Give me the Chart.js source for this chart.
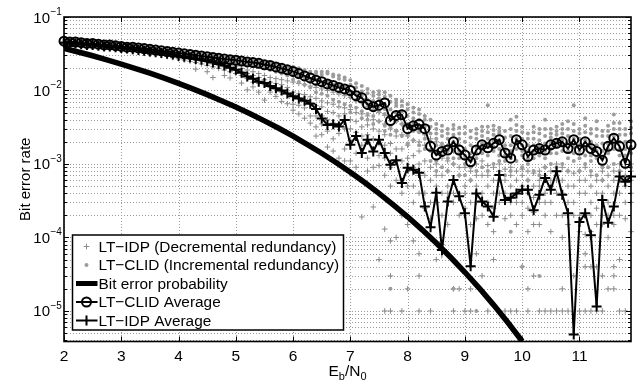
<!DOCTYPE html>
<html><head><meta charset="utf-8">
<script src="https://cdn.jsdelivr.net/npm/chart.js@4.4.1/dist/chart.umd.min.js"></script>
<style>html,body{margin:0;padding:0;background:#fff;}#wrap{width:638px;height:383px;}</style>
</head><body><div id="wrap"><canvas id="c" width="638" height="383"></canvas></div>
<script>
// ---------- data ----------
const snr = [2,2.1,2.2,2.3,2.4,2.5,2.6,2.7,2.8,2.9,3,3.1,3.2,3.3,3.4,3.5,3.6,3.7,3.8,3.9,4,4.1,4.2,4.3,4.4,4.5,4.6,4.7,4.8,4.9,5,5.1,5.2,5.3,5.4,5.5,5.6,5.7,5.8,5.9,6,6.1,6.2,6.3,6.4,6.5,6.6,6.7,6.8,6.9,7,7.1,7.2,7.3,7.4,7.5,7.6,7.7,7.8,7.9,8,8.1,8.2,8.3,8.4,8.5,8.6,8.7,8.8,8.9,9,9.1,9.2,9.3,9.4,9.5,9.6,9.7,9.8,9.9,10,10.1,10.2,10.3,10.4,10.5,10.6,10.7,10.8,10.9,11,11.1,11.2,11.3,11.4,11.5,11.6,11.7,11.8,11.9];

const clidAvg = [
0.0468,0.0457,0.0457,0.0447,0.0437,0.0437,0.0427,0.0417,0.0417,0.0407,
0.0398,0.0389,0.0389,0.0380,0.0372,0.0363,0.0355,0.0347,0.0339,0.0331,
0.0324,0.0316,0.0309,0.0302,0.0295,0.0288,0.0282,0.0275,0.0269,0.0263,
0.0257,0.0251,0.0245,0.0240,0.0234,0.0224,0.0219,0.0209,0.0200,0.0191,
0.0182,0.0170,0.0158,0.0148,0.0138,0.0132,0.0123,0.0117,0.0110,0.0105,
0.0100,0.00851,0.00794,0.00646,0.00603,0.00631,0.00676,0.00389,0.00457,0.00468,
0.00302,0.00331,0.00347,0.00302,0.00174,0.00132,0.00148,0.00155,0.00200,0.00155,
0.00132,0.00107,0.00155,0.00182,0.00166,0.00191,0.00214,0.00141,0.00120,0.00214,
0.00182,0.00126,0.00155,0.00162,0.00155,0.00182,0.00191,0.00200,0.00162,0.00214,
0.00155,0.00200,0.00162,0.00148,0.00112,0.00174,0.00224,0.00174,0.00102,0.00182];

const idpAvg = [
0.0447,0.0437,0.0437,0.0427,0.0417,0.0417,0.0407,0.0398,0.0398,0.0389,
0.0380,0.0372,0.0363,0.0355,0.0347,0.0339,0.0331,0.0324,0.0316,0.0309,
0.0295,0.0288,0.0282,0.0269,0.0263,0.0251,0.0240,0.0229,0.0219,0.0204,
0.0191,0.0174,0.0155,0.0145,0.0132,0.0126,0.0115,0.0107,0.0100,0.00912,
0.00832,0.00776,0.00724,0.00661,0.00562,0.00417,0.00339,0.00347,0.00324,0.00398,
0.00182,0.00240,0.00141,0.00214,0.00148,0.00214,0.00141,0.000977,0.00112,0.000550,
0.000891,0.000832,0.000759,0.000263,0.000138,0.000407,0.0000676,0.000309,0.000603,0.000363,
0.000214,0.0000407,0.000398,0.000309,0.000263,0.000191,0.000708,0.000324,0.000347,0.000398,
0.000447,0.000447,0.000234,0.000380,0.000646,0.000447,0.000794,0.000380,0.000214,0.0000048,
0.000162,0.000214,0.000107,0.0000115,0.000324,0.000158,0.000263,0.000676,0.000575,0.000676];

const bepX = [2,2.25,2.5,2.75,3,3.25,3.5,3.75,4,4.25,4.5,4.75,5,5.25,5.5,5.75,6,6.25,6.5,6.75,7,7.25,7.5,7.75,8,8.25,8.5,8.75,9,9.25,9.5,9.75,10];
const bepY = [0.0375,0.0334,0.0297,0.0261,0.0229,0.0199,0.0172,0.0147,0.0125,0.0105,0.00879,0.00727,0.00595,0.00483,0.00386,0.00306,0.00239,0.00184,0.00140,0.00105,0.000773,0.000560,0.000398,0.000278,0.000191,0.000128,0.0000840,0.0000538,0.0000336,0.0000205,0.0000121,0.00000697,0.00000387];

// individual runs, one list per entry of snr
const idpTrials = [
[0.046,0.044,0.043],[0.045,0.043,0.042],[0.045,0.043,0.041],[0.044,0.042,0.041],[0.043,0.041,0.040],[0.043,0.041,0.039],[0.042,0.040,0.039],[0.041,0.039,0.038],[0.041,0.039,0.037],[0.040,0.038,0.037],
[0.039,0.037,0.036],[0.038,0.036,0.035],[0.037,0.035,0.034],[0.037,0.035,0.033],[0.036,0.034,0.032],[0.035,0.033,0.031],[0.034,0.032,0.031],[0.033,0.031,0.030],[0.033,0.031,0.029],[0.032,0.030,0.028],
[0.031,0.029,0.027],[0.030,0.028,0.026],[0.029,0.027,0.025],[0.028,0.026,0.024,0.0195],[0.027,0.025,0.023],[0.026,0.024,0.022,0.018],[0.025,0.023,0.021,0.015],[0.024,0.022,0.020],[0.023,0.021,0.019,0.016],[0.022,0.020,0.018,0.0148],
[0.021,0.019,0.017],[0.020,0.018,0.016,0.0126],[0.019,0.017,0.0145,0.0102],[0.018,0.016,0.013,0.0112],[0.017,0.015,0.0125,0.0095],[0.016,0.014,0.012,0.0074],[0.015,0.013,0.011,0.0095],[0.0145,0.0125,0.0105,0.0083],[0.014,0.012,0.0095,0.0071],[0.0135,0.011,0.009,0.0066],
[0.013,0.0095,0.0085,0.0065,0.0054],[0.0125,0.009,0.008,0.0063,0.0048],[0.012,0.0088,0.0075,0.0058,0.0042],[0.0115,0.0082,0.0068,0.0045,0.0036],[0.011,0.0078,0.0062,0.0045,0.0032,0.0024],[0.0105,0.0072,0.006,0.0045,0.0035,0.0025],[0.01,0.0068,0.0052,0.004,0.0028,0.0017],[0.0095,0.0065,0.005,0.0036,0.0022,0.0015],[0.009,0.006,0.0045,0.0035,0.0026,0.0012],[0.0085,0.0058,0.0048,0.003,0.0016,0.0011],
[0.008,0.0055,0.004,0.003,0.0021,0.0011],[0.0072,0.005,0.0038,0.0027,0.0014,0.0009],[0.0068,0.0048,0.0032,0.0024,0.0018,0.0006,0.00019],[0.006,0.0045,0.0034,0.0025,0.0012,0.0008],[0.0055,0.004,0.003,0.0022,0.0016,0.0009,0.00026],[0.005,0.0038,0.0028,0.0019,0.0013,0.00095,0.00005],[0.0046,0.0035,0.0025,0.0018,0.0012,0.0007,0.00013,0.00001],[0.0042,0.003,0.0019,0.0014,0.0009,0.0005,0.00009,0.00003,0.00001],[0.0038,0.0028,0.0024,0.0016,0.0011,0.0006,0.0001],[0.0035,0.0025,0.0016,0.0011,0.0006,0.0004,0.0002,0.00001],
[0.0032,0.0024,0.0018,0.0012,0.0008,0.0005,0.00015,0.00002],[0.003,0.0021,0.0013,0.0009,0.0005,0.0003,0.00009],[0.0028,0.002,0.0015,0.001,0.0007,0.0004,0.00006,0.00003,0.00001],[0.0025,0.0018,0.0011,0.0007,0.0004,0.00025,0.00012],[0.0022,0.0016,0.0009,0.0006,0.0003,0.00018,0.00001],[0.002,0.0014,0.001,0.0007,0.0005,0.0003,0.00005],[0.0018,0.0012,0.0007,0.0004,0.0002,0.00008],[0.0016,0.0011,0.0008,0.0005,0.0004,0.00015],[0.0015,0.001,0.0006,0.0004,0.0003,0.00002,0.00001],[0.0014,0.0009,0.0007,0.0004,0.0002,0.00002],
[0.0012,0.0009,0.0005,0.0004,0.00025,0.00001],[0.0011,0.0008,0.0006,0.0003,0.00015,0.00002,0.00001],[0.001,0.0007,0.0005,0.0003,0.00018,0.00006],[0.0011,0.0007,0.0004,0.0003,0.0002,0.00003],[0.00095,0.0007,0.0005,0.0003,0.00015,0.00001],[0.0009,0.0006,0.0004,0.00025,0.00012,0.00005],[0.001,0.0008,0.0006,0.0004,0.0003,0.00001],[0.00085,0.0006,0.0004,0.0003,0.00018,0.00001],[0.0009,0.0007,0.0005,0.0003,0.0002,0.00001],[0.0008,0.0006,0.0004,0.0003,0.00015,0.00001],
[0.00085,0.0007,0.0005,0.0003,0.0002,0.00004],[0.0008,0.0006,0.0004,0.00025,0.00012,0.00002,0.00001],[0.00075,0.0005,0.00035,0.00022,0.00015,0.00003],[0.0008,0.0006,0.0005,0.0003,0.00015,0.00001],[0.0009,0.0007,0.0004,0.0003,0.0002,0.00001],[0.0008,0.0006,0.0005,0.0003,0.00012,0.00001],[0.001,0.0008,0.0006,0.0004,0.0002,0.00001],[0.0009,0.0006,0.0004,0.0002,0.0001,0.00002,0.00001],[0.0008,0.0005,0.0003,0.0002,0.00015,0.00001],[0.00075,0.0005,0.0003,0.0002,0.00003],
[0.0008,0.0006,0.0004,0.0002,0.00012,0.00001],[0.0009,0.0006,0.0004,0.0002,0.00011,0.00006,0.00004,0.00001],[0.0007,0.0005,0.0003,0.0002,0.00012,0.00004,0.00001],[0.0006,0.0004,0.00025,0.00015,0.00004,0.00001],[0.0008,0.0006,0.0004,0.0002,0.00015,0.00003,0.00001],[0.0007,0.0005,0.0003,0.0002,0.0001,0.00002],[0.0008,0.0006,0.0004,0.0002,0.00015,0.00004,0.00003,0.00002],[0.001,0.0008,0.0006,0.0004,0.0002,0.00005,0.00001],[0.0009,0.0007,0.0005,0.0003,0.00018,0.00001],[0.001,0.0008,0.0006,0.0004,0.0003,0.00012]];

const clidTrials = [
[0.049,0.046,0.044],[0.048,0.045,0.043],[0.048,0.045,0.043],[0.047,0.044,0.042],[0.046,0.043,0.041],[0.046,0.043,0.041],[0.045,0.042,0.040],[0.044,0.041,0.039],[0.044,0.041,0.039],[0.043,0.040,0.038],
[0.042,0.039,0.037],[0.041,0.038,0.036],[0.041,0.038,0.036],[0.040,0.037,0.035],[0.039,0.037,0.035],[0.038,0.036,0.034],[0.037,0.035,0.033],[0.036,0.034,0.032],[0.036,0.033,0.031],[0.035,0.033,0.031],
[0.034,0.032,0.030],[0.033,0.031,0.029],[0.032,0.030,0.028],[0.032,0.030,0.028],[0.031,0.029,0.027],[0.030,0.028,0.026],[0.030,0.028,0.026],[0.029,0.027,0.025],[0.028,0.026,0.024],[0.028,0.026,0.024],
[0.027,0.025,0.023],[0.027,0.025,0.023],[0.026,0.024,0.022],[0.026,0.024,0.022],[0.025,0.023,0.021],[0.024,0.022,0.020],[0.024,0.021,0.019],[0.023,0.020,0.018],[0.022,0.019,0.017],[0.021,0.018,0.016],
[0.021,0.02,0.017,0.016,0.014],[0.02,0.019,0.016,0.015,0.013],[0.019,0.018,0.015,0.014,0.012],[0.018,0.017,0.014,0.013,0.011],[0.018,0.017,0.014,0.012,0.0095],[0.018,0.0165,0.013,0.0115,0.009],[0.018,0.017,0.013,0.011,0.0085],[0.0165,0.0155,0.012,0.0105,0.0075],[0.016,0.0145,0.012,0.0095,0.007],[0.015,0.014,0.011,0.009,0.0065],
[0.0138,0.012,0.0095,0.0085,0.0062,0.005],[0.0125,0.011,0.0088,0.0075,0.0058],[0.0115,0.0098,0.0085,0.007,0.0052,0.0042],[0.0105,0.0092,0.0075,0.0065,0.0048,0.004],[0.0095,0.0085,0.0072,0.006,0.0045,0.0035],[0.0098,0.0088,0.0078,0.0062,0.0052,0.0038],[0.0095,0.0082,0.0065,0.0056,0.0048,0.0033,0.0028],[0.0085,0.007,0.0055,0.0045,0.0032,0.0025,0.00002],[0.0075,0.0068,0.0062,0.005,0.0038,0.0028],[0.0072,0.0062,0.0052,0.0042,0.0035,0.0024],
[0.0065,0.0055,0.0045,0.0035,0.0025,0.0019],[0.0058,0.005,0.0042,0.0035,0.0028,0.0021],[0.0055,0.0048,0.004,0.0033,0.0027,0.0018],[0.0045,0.004,0.0032,0.0026,0.0022,0.0016],[0.004,0.0032,0.0026,0.002,0.0015,0.0011],[0.0035,0.003,0.0026,0.0022,0.0018,0.0014,0.0011,0.0008],[0.0033,0.0028,0.0024,0.0019,0.0016,0.0013,0.0009],[0.003,0.0026,0.0022,0.0018,0.0015,0.0012,0.0008],[0.0034,0.003,0.0025,0.002,0.0015,0.0012,0.001,0.00002],[0.0031,0.0026,0.0022,0.0018,0.0015,0.0012,0.0007],
[0.0032,0.0026,0.002,0.0016,0.0013,0.001,0.0007],[0.0028,0.0023,0.0018,0.0014,0.0011,0.0009,0.0006],[0.003,0.0026,0.0022,0.0017,0.0014,0.0012,0.0008,0.00001],[0.0032,0.0028,0.0024,0.0019,0.0016,0.0014,0.0009],[0.0063,0.0032,0.0027,0.0022,0.0017,0.0013,0.0008],[0.0033,0.0029,0.0025,0.002,0.0017,0.0015,0.001],[0.0031,0.0028,0.0026,0.0021,0.0016,0.0013,0.0011],[0.0028,0.0023,0.0018,0.0015,0.0013,0.0011,0.0007],[0.004,0.003,0.0024,0.0018,0.0015,0.0012,0.0008,0.00012],[0.0044,0.0034,0.0028,0.0022,0.0019,0.0016,0.0011],
[0.0032,0.0027,0.0022,0.0018,0.0015,0.0013,0.0009,0.00004],[0.0026,0.0022,0.0018,0.0015,0.0012,0.001,0.0006],[0.0032,0.0027,0.0022,0.0018,0.0015,0.0012,0.0008],[0.003,0.0026,0.0021,0.0017,0.0015,0.0013,0.0007,0.00003],[0.004,0.003,0.0024,0.0019,0.0015,0.0012,0.0009],[0.003,0.0026,0.0023,0.0019,0.0016,0.0014,0.001],[0.0032,0.0028,0.0025,0.002,0.0017,0.0014,0.0009],[0.0035,0.003,0.0026,0.0021,0.0018,0.0015,0.001],[0.0038,0.003,0.0024,0.0019,0.0015,0.0012,0.0008],[0.0063,0.0035,0.0028,0.0022,0.0017,0.0014,0.0011],
[0.003,0.0026,0.0022,0.0018,0.0015,0.0012,0.0008],[0.0042,0.0033,0.0027,0.0021,0.0016,0.0013,0.001],[0.003,0.0026,0.002,0.0017,0.0013,0.0011,0.0008],[0.0038,0.003,0.0024,0.0018,0.0015,0.0012,0.0007],[0.0028,0.0024,0.0019,0.0015,0.0012,0.0009,0.0006],[0.0033,0.0028,0.0024,0.0019,0.0016,0.0014,0.0009],[0.0047,0.0036,0.003,0.0024,0.0019,0.0016,0.001],[0.0036,0.003,0.0025,0.002,0.0016,0.0013,0.0008],[0.003,0.0025,0.002,0.0016,0.0013,0.0011,0.0006],[0.0038,0.0031,0.0026,0.002,0.0017,0.0014,0.0009]];

const xTickValues = [2,3,4,5,6,7,8,9,10,11];
const yTickValues = [1e-1,1e-2,1e-3,1e-4,1e-5];
const yTickExponents = ['\u22121','\u22122','\u22123','\u22124','\u22125'];
const legendLabels = ['LT\u2212IDP (Decremental redundancy)','LT\u2212CLID (Incremental redundancy)','Bit error probability','LT\u2212CLID Average','LT\u2212IDP Average'];
const yTitle = 'Bit error rate';

// ---------- build library data ----------
const pts = (xs, ys) => xs.map((x, i) => ({x, y: ys[i]}));
const trialPts = (lists) => { const out = []; snr.forEach((x, i) => lists[i].forEach(v => out.push({x, y: v}))); return out; };

const FONT = '"Liberation Sans", Arial, Helvetica, sans-serif';
const GRAY_PLUS = '#8a8a8a', GRAY_DOT = '#9c9c9c';

const frame = {
  id: 'matlabFrame',
  beforeDatasetsDraw(chart) {
    const {ctx, chartArea: a, scales: {x, y}} = chart;
    ctx.save();
    ctx.strokeStyle = '#9a9a9a'; ctx.lineWidth = 1; ctx.setLineDash([1, 2]);
    ctx.beginPath();
    xTickValues.forEach(v => { const p = Math.round(x.getPixelForValue(v)) + 0.5; ctx.moveTo(p, a.top); ctx.lineTo(p, a.bottom); });
    yTickValues.concat([1e-6]).forEach(d => { for (let k = 1; k <= 9; k++) { const v = k * d; if (v < y.min || v > y.max) continue; const p = Math.round(y.getPixelForValue(v)) + 0.5; ctx.moveTo(a.left, p); ctx.lineTo(a.right, p); } });
    ctx.stroke();
    ctx.restore();
  },
  afterDatasetsDraw(chart) {
    const {ctx, chartArea: a, scales: {x, y}} = chart;
    ctx.save();
    ctx.setLineDash([]);
    ctx.strokeStyle = '#000'; ctx.lineWidth = 1.6;
    ctx.strokeRect(a.left, a.top, a.right - a.left, a.bottom - a.top);
    ctx.lineWidth = 1;
    ctx.beginPath();
    xTickValues.forEach(v => { const p = Math.round(x.getPixelForValue(v)) + 0.5; ctx.moveTo(p, a.bottom); ctx.lineTo(p, a.bottom - 5); ctx.moveTo(p, a.top); ctx.lineTo(p, a.top + 5); });
    yTickValues.concat([1e-6]).forEach(d => { for (let k = 1; k <= 9; k++) { const v = k * d; if (v < y.min || v > y.max) continue; const p = Math.round(y.getPixelForValue(v)) + 0.5; const L = k === 1 ? 5 : 3; ctx.moveTo(a.left, p); ctx.lineTo(a.left + L, p); ctx.moveTo(a.right, p); ctx.lineTo(a.right - L, p); } });
    ctx.stroke();
    // tick labels
    ctx.fillStyle = '#000';
    ctx.font = '15.5px ' + FONT; ctx.textAlign = 'center'; ctx.textBaseline = 'alphabetic';
    xTickValues.forEach(v => ctx.fillText(String(v), x.getPixelForValue(v), a.bottom + 19));
    yTickValues.forEach((v, i) => {
      const p = y.getPixelForValue(v);
      ctx.font = '15px ' + FONT; ctx.textAlign = 'right';
      ctx.fillText('10', a.left - 14, p + 5.5);
      ctx.font = '10px ' + FONT; ctx.textAlign = 'left';
      ctx.fillText(yTickExponents[i], a.left - 13.5, p - 2);
    });
    // y title
    ctx.save();
    ctx.translate(30, (a.top + a.bottom) / 2);
    ctx.rotate(-Math.PI / 2);
    ctx.font = '15px ' + FONT; ctx.textAlign = 'center'; ctx.textBaseline = 'alphabetic';
    ctx.fillText(yTitle, 0, 0);
    ctx.restore();
    // x title E_b/N_0
    const parts = [['E', 15.5, 0], ['b', 11, 4], ['/N', 15.5, 0], ['0', 11, 4]];
    let w = 0; parts.forEach(p => { ctx.font = p[1] + 'px ' + FONT; w += ctx.measureText(p[0]).width; });
    let cx = (a.left + a.right) / 2 - w / 2; const by = a.bottom + 34;
    ctx.textAlign = 'left';
    parts.forEach(p => { ctx.font = p[1] + 'px ' + FONT; ctx.fillText(p[0], cx, by + p[2]); cx += ctx.measureText(p[0]).width; });
    // legend
    const L = a.left + 8.5, T = a.bottom - 106.5, W = 271, H = 95;
    ctx.fillStyle = '#fff'; ctx.fillRect(L, T, W, H);
    ctx.strokeStyle = '#000'; ctx.lineWidth = 1.5; ctx.strokeRect(L, T, W, H);
    const rows = [11.5, 30, 48.5, 67, 85.5];
    const sx = L + 14, x0 = L + 3.5, x1 = L + 25;
    rows.forEach((r, i) => {
      const ry = T + r;
      ctx.save();
      if (i === 0) { ctx.strokeStyle = GRAY_PLUS; ctx.lineWidth = 1; ctx.beginPath(); ctx.moveTo(sx - 2.8, ry); ctx.lineTo(sx + 2.8, ry); ctx.moveTo(sx, ry - 2.8); ctx.lineTo(sx, ry + 2.8); ctx.stroke(); }
      if (i === 1) { ctx.fillStyle = GRAY_DOT; ctx.beginPath(); ctx.arc(sx, ry, 2, 0, Math.PI * 2); ctx.fill(); }
      if (i === 2) { ctx.strokeStyle = '#000'; ctx.lineWidth = 5; ctx.beginPath(); ctx.moveTo(x0, ry); ctx.lineTo(x1, ry); ctx.stroke(); }
      if (i === 3) { ctx.strokeStyle = '#000'; ctx.lineWidth = 2; ctx.beginPath(); ctx.moveTo(x0, ry); ctx.lineTo(x1, ry); ctx.stroke(); ctx.beginPath(); ctx.arc(sx, ry, 4.5, 0, Math.PI * 2); ctx.stroke(); }
      if (i === 4) { ctx.strokeStyle = '#000'; ctx.lineWidth = 2; ctx.beginPath(); ctx.moveTo(x0, ry); ctx.lineTo(x1, ry); ctx.moveTo(sx, ry - 5); ctx.lineTo(sx, ry + 5); ctx.stroke(); }
      ctx.restore();
      ctx.fillStyle = '#000'; ctx.font = '15.4px ' + FONT; ctx.textAlign = 'left'; ctx.textBaseline = 'alphabetic';
      ctx.fillText(legendLabels[i], L + 26, ry + 5.3);
    });
    ctx.restore();
  }
};

new Chart(document.getElementById('c'), {
  type: 'scatter',
  data: {
    datasets: [
      {label: legendLabels[0], data: trialPts(idpTrials), showLine: false, pointStyle: 'cross', pointRadius: 2.8, borderColor: GRAY_PLUS, pointBorderWidth: 1, order: 5, clip: false},
      {label: legendLabels[1], data: trialPts(clidTrials), showLine: false, pointStyle: 'circle', pointRadius: 2, backgroundColor: GRAY_DOT, borderColor: GRAY_DOT, pointBorderWidth: 0, order: 4, clip: false},
      {label: legendLabels[2], data: pts(bepX, bepY), showLine: true, borderColor: '#000', borderWidth: 5.5, pointRadius: 0, order: 3},
      {label: legendLabels[3], data: pts(snr, clidAvg), showLine: true, borderColor: '#000', borderWidth: 2, pointStyle: 'circle', pointRadius: 4.5, pointBorderWidth: 2, pointBackgroundColor: 'rgba(0,0,0,0)', pointBorderColor: '#000', order: 2, clip: false},
      {label: legendLabels[4], data: pts(snr, idpAvg), showLine: true, borderColor: '#000', borderWidth: 2, pointStyle: 'cross', pointRadius: 5, pointBorderWidth: 2, pointBorderColor: '#000', order: 1, clip: false}
    ]
  },
  options: {
    responsive: false, animation: false, devicePixelRatio: 1,
    layout: {padding: {left: 64, top: 17, right: 7, bottom: 41.5}},
    scales: {
      x: {type: 'linear', min: 2, max: 11.9, display: false},
      y: {type: 'logarithmic', min: 3.84e-6, max: 0.1, display: false}
    },
    plugins: {legend: {display: false}, tooltip: {enabled: false}},
    elements: {line: {tension: 0}}
  },
  plugins: [frame]
});
</script></body></html>
